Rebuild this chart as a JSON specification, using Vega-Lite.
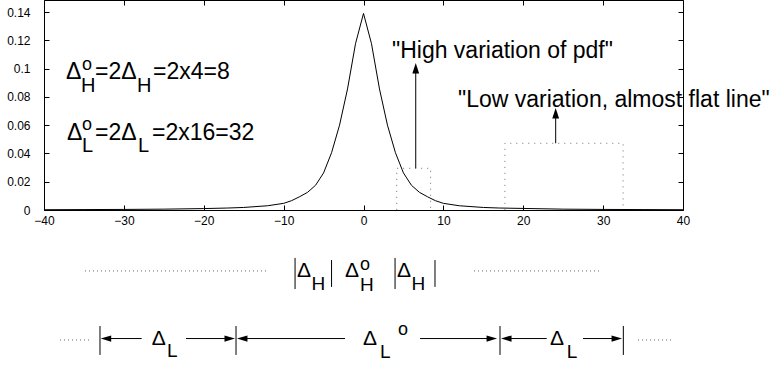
{
  "$schema": "https://vega.github.io/schema/vega-lite/v6.json",
  "width": 639,
  "height": 210,
  "autosize": {"type": "none"},
  "padding": {"left": 44, "top": 0, "right": 87, "bottom": 156},
  "background": "white",
  "config": {
    "view": {"stroke": null},
    "font": "Liberation Sans",
    "axis": {
      "labelFont": "Liberation Sans",
      "labelFontSize": 12,
      "labelColor": "black",
      "domainColor": "black",
      "tickColor": "black",
      "tickSize": -5,
      "grid": false,
      "title": null,
      "labelFlush": false,
      "labelOverlap": false
    }
  },
  "datasets": {
    "curve": [
      {"x": -40, "y": 0.0002}, {"x": -35, "y": 0.0003}, {"x": -30, "y": 0.0004},
      {"x": -25, "y": 0.0006}, {"x": -20, "y": 0.001}, {"x": -17, "y": 0.0014},
      {"x": -15, "y": 0.0018}, {"x": -12, "y": 0.003}, {"x": -10, "y": 0.0047},
      {"x": -9, "y": 0.0066}, {"x": -8, "y": 0.0094}, {"x": -7, "y": 0.0125},
      {"x": -6, "y": 0.0175}, {"x": -5, "y": 0.0262}, {"x": -4, "y": 0.0405},
      {"x": -3, "y": 0.06}, {"x": -2, "y": 0.0856}, {"x": -1, "y": 0.1176},
      {"x": 0, "y": 0.139},
      {"x": 1, "y": 0.1176}, {"x": 2, "y": 0.0856}, {"x": 3, "y": 0.06},
      {"x": 4, "y": 0.0405}, {"x": 5, "y": 0.0262}, {"x": 6, "y": 0.0175},
      {"x": 7, "y": 0.0125}, {"x": 8, "y": 0.0094}, {"x": 9, "y": 0.0066},
      {"x": 10, "y": 0.0047}, {"x": 12, "y": 0.003}, {"x": 15, "y": 0.0018},
      {"x": 17, "y": 0.0014}, {"x": 20, "y": 0.0011}, {"x": 25, "y": 0.0006},
      {"x": 30, "y": 0.0004}, {"x": 35, "y": 0.0003}, {"x": 40, "y": 0.0002}
    ],
    "rects": [
      {"id": "a", "o": 1, "x": 4.16, "y": 0}, {"id": "a", "o": 2, "x": 4.16, "y": 0.0295},
      {"id": "a", "o": 3, "x": 8.4, "y": 0.0295}, {"id": "a", "o": 4, "x": 8.4, "y": 0},
      {"id": "b", "o": 1, "x": 17.7, "y": 0}, {"id": "b", "o": 2, "x": 17.7, "y": 0.0472},
      {"id": "b", "o": 3, "x": 32.5, "y": 0.0472}, {"id": "b", "o": 4, "x": 32.5, "y": 0}
    ],
    "dots": [
      {"id": "c", "o": 1, "x": -34.87, "y": -0.0431}, {"id": "c", "o": 2, "x": -11.96, "y": -0.0431},
      {"id": "d", "o": 1, "x": 13.84, "y": -0.0431}, {"id": "d", "o": 2, "x": 29.61, "y": -0.0431},
      {"id": "e", "o": 1, "x": -38.0, "y": -0.0919}, {"id": "e", "o": 2, "x": -34.24, "y": -0.0919},
      {"id": "f", "o": 1, "x": 34.37, "y": -0.0919}, {"id": "f", "o": 2, "x": 38.75, "y": -0.0919}
    ],
    "segs": [
      {"x": 6.54, "x2": 6.54, "y": 0.0295, "y2": 0.1},
      {"x": 24.06, "x2": 24.06, "y": 0.0472, "y2": 0.069},
      {"x": -8.57, "x2": -8.57, "y": -0.0339, "y2": -0.0559},
      {"x": -4.0, "x2": -4.0, "y": -0.0354, "y2": -0.0544},
      {"x": 3.95, "x2": 3.95, "y": -0.0339, "y2": -0.0559},
      {"x": 8.95, "x2": 8.95, "y": -0.0354, "y2": -0.0544},
      {"x": -32.99, "x2": -32.99, "y": -0.082, "y2": -0.1025},
      {"x": -15.96, "x2": -15.96, "y": -0.082, "y2": -0.1025},
      {"x": 17.09, "x2": 17.09, "y": -0.082, "y2": -0.1025},
      {"x": 32.53, "x2": 32.53, "y": -0.082, "y2": -0.1025},
      {"x": -27.77, "x2": -32.0, "y": -0.0909, "y2": -0.0909},
      {"x": -22.22, "x2": -17.0, "y": -0.0909, "y2": -0.0909},
      {"x": -2.31, "x2": -15.0, "y": -0.0909, "y2": -0.0909},
      {"x": 7.08, "x2": 16.0, "y": -0.0909, "y2": -0.0909},
      {"x": 22.94, "x2": 18.0, "y": -0.0909, "y2": -0.0909},
      {"x": 27.48, "x2": 31.5, "y": -0.0909, "y2": -0.0909}
    ],
    "heads": [
      {"x": 6.54, "y": 0.1039, "d": "up"},
      {"x": 24.06, "y": 0.0721, "d": "up"},
      {"x": -32.9, "y": -0.0909, "d": "left"},
      {"x": -15.84, "y": -0.0909, "d": "left"},
      {"x": 17.22, "y": -0.0909, "d": "left"},
      {"x": -16.09, "y": -0.0909, "d": "right"},
      {"x": 16.72, "y": -0.0909, "d": "right"},
      {"x": 32.37, "y": -0.0909, "d": "right"}
    ],
    "eq": [
      {"x": -37.25, "y": 0.0926, "t": "Δ"},
      {"x": -33.61, "y": 0.0926, "t": "=2Δ"},
      {"x": -26.35, "y": 0.0926, "t": "=2x4=8"},
      {"x": -37.12, "y": 0.0495, "t": "Δ"},
      {"x": -33.61, "y": 0.0495, "t": "=2Δ"},
      {"x": -26.48, "y": 0.0495, "t": "=2x16=32"},
      {"x": 3.57, "y": 0.1075, "t": "\"High variation of pdf\""},
      {"x": 11.83, "y": 0.0728, "t": "\"Low variation, almost flat line\""}
    ],
    "sub": [
      {"x": -35.37, "y": 0.0834, "t": "H"},
      {"x": -28.36, "y": 0.0834, "t": "H"},
      {"x": -35.24, "y": 0.041, "t": "L"},
      {"x": -28.23, "y": 0.041, "t": "L"}
    ],
    "sup": [
      {"x": -35.24, "y": 0.099, "t": "o"},
      {"x": -35.24, "y": 0.0566, "t": "o"},
      {"x": -0.44, "y": -0.0424, "t": "o"},
      {"x": 4.32, "y": -0.0884, "t": "o"}
    ],
    "diag": [
      {"x": -8.32, "y": -0.0474, "t": "Δ"},
      {"x": -2.31, "y": -0.0474, "t": "Δ"},
      {"x": 4.2, "y": -0.0474, "t": "Δ"},
      {"x": -26.52, "y": -0.0955, "t": "Δ"},
      {"x": -0.06, "y": -0.0955, "t": "Δ"},
      {"x": 23.35, "y": -0.0955, "t": "Δ"}
    ],
    "diagsub": [
      {"x": -6.51, "y": -0.0566, "t": "H"},
      {"x": -0.44, "y": -0.0573, "t": "H"},
      {"x": 6.01, "y": -0.0566, "t": "H"},
      {"x": -24.6, "y": -0.1039, "t": "L"},
      {"x": 2.07, "y": -0.1046, "t": "L"},
      {"x": 25.44, "y": -0.1046, "t": "L"}
    ]
  },
  "layer": [
    {
      "data": {"name": "curve"},
      "mark": {"type": "line", "color": "black", "strokeWidth": 1},
      "encoding": {
        "x": {
          "field": "x", "type": "quantitative",
          "scale": {"domain": [-40, 40], "nice": false, "zero": false},
          "axis": {"orient": "bottom", "values": [-40, -30, -20, -10, 0, 10, 20, 30, 40], "labelPadding": 10}
        },
        "y": {
          "field": "y", "type": "quantitative",
          "scale": {"domain": [0, 0.1485], "nice": false, "zero": false},
          "axis": {"orient": "left", "values": [0, 0.02, 0.04, 0.06, 0.08, 0.1, 0.12, 0.14], "format": "~f", "labelPadding": 19}
        }
      }
    },
    {
      "data": {"name": "rects"},
      "mark": {"type": "line", "color": "#888888", "strokeWidth": 1, "strokeDash": [1.2, 4.8]},
      "encoding": {
        "x": {"field": "x", "type": "quantitative",
          "axis": {"orient": "top", "labels": false, "values": [-40, -30, -20, -10, 0, 10, 20, 30, 40]}},
        "y": {"field": "y", "type": "quantitative",
          "axis": {"orient": "right", "labels": false, "values": [0, 0.02, 0.04, 0.06, 0.08, 0.1, 0.12, 0.14]}},
        "detail": {"field": "id"},
        "order": {"field": "o"}
      }
    },
    {
      "data": {"name": "dots"},
      "mark": {"type": "line", "color": "#666666", "strokeWidth": 1, "strokeDash": [1, 3]},
      "encoding": {
        "x": {"field": "x", "type": "quantitative", "axis": null},
        "y": {"field": "y", "type": "quantitative", "axis": null},
        "detail": {"field": "id"},
        "order": {"field": "o"}
      }
    },
    {
      "data": {"name": "segs"},
      "mark": {"type": "rule", "color": "black", "strokeWidth": 1},
      "encoding": {
        "x": {"field": "x", "type": "quantitative", "axis": null},
        "x2": {"field": "x2"},
        "y": {"field": "y", "type": "quantitative", "axis": null},
        "y2": {"field": "y2"}
      }
    },
    {
      "data": {"name": "heads"},
      "mark": {"type": "point", "filled": true, "color": "black", "opacity": 1, "size": 110, "strokeWidth": 0},
      "encoding": {
        "x": {"field": "x", "type": "quantitative", "axis": null},
        "y": {"field": "y", "type": "quantitative", "axis": null},
        "shape": {
          "field": "d", "type": "nominal", "legend": null,
          "scale": {"domain": ["up", "left", "right"], "range": ["M0,0L0.65,2L-0.65,2Z", "M0,0L2,-0.6L2,0.6Z", "M0,0L-2,-0.6L-2,0.6Z"]}
        }
      }
    },
    {
      "data": {"name": "eq"},
      "mark": {"type": "text", "align": "left", "baseline": "alphabetic", "fontSize": 23, "font": "Liberation Sans", "color": "black"},
      "encoding": {
        "x": {"field": "x", "type": "quantitative", "axis": null},
        "y": {"field": "y", "type": "quantitative", "axis": null},
        "text": {"field": "t"}
      }
    },
    {
      "data": {"name": "sub"},
      "mark": {"type": "text", "align": "left", "baseline": "alphabetic", "fontSize": 20, "font": "Liberation Sans", "color": "black"},
      "encoding": {
        "x": {"field": "x", "type": "quantitative", "axis": null},
        "y": {"field": "y", "type": "quantitative", "axis": null},
        "text": {"field": "t"}
      }
    },
    {
      "data": {"name": "sup"},
      "mark": {"type": "text", "align": "left", "baseline": "alphabetic", "fontSize": 18, "font": "Liberation Sans", "color": "black"},
      "encoding": {
        "x": {"field": "x", "type": "quantitative", "axis": null},
        "y": {"field": "y", "type": "quantitative", "axis": null},
        "text": {"field": "t"}
      }
    },
    {
      "data": {"name": "diag"},
      "mark": {"type": "text", "align": "left", "baseline": "alphabetic", "fontSize": 21, "font": "Liberation Sans", "color": "black"},
      "encoding": {
        "x": {"field": "x", "type": "quantitative", "axis": null},
        "y": {"field": "y", "type": "quantitative", "axis": null},
        "text": {"field": "t"}
      }
    },
    {
      "data": {"name": "diagsub"},
      "mark": {"type": "text", "align": "left", "baseline": "alphabetic", "fontSize": 19, "font": "Liberation Sans", "color": "black"},
      "encoding": {
        "x": {"field": "x", "type": "quantitative", "axis": null},
        "y": {"field": "y", "type": "quantitative", "axis": null},
        "text": {"field": "t"}
      }
    }
  ],
  "resolve": {"axis": {"x": "independent", "y": "independent"}}
}
